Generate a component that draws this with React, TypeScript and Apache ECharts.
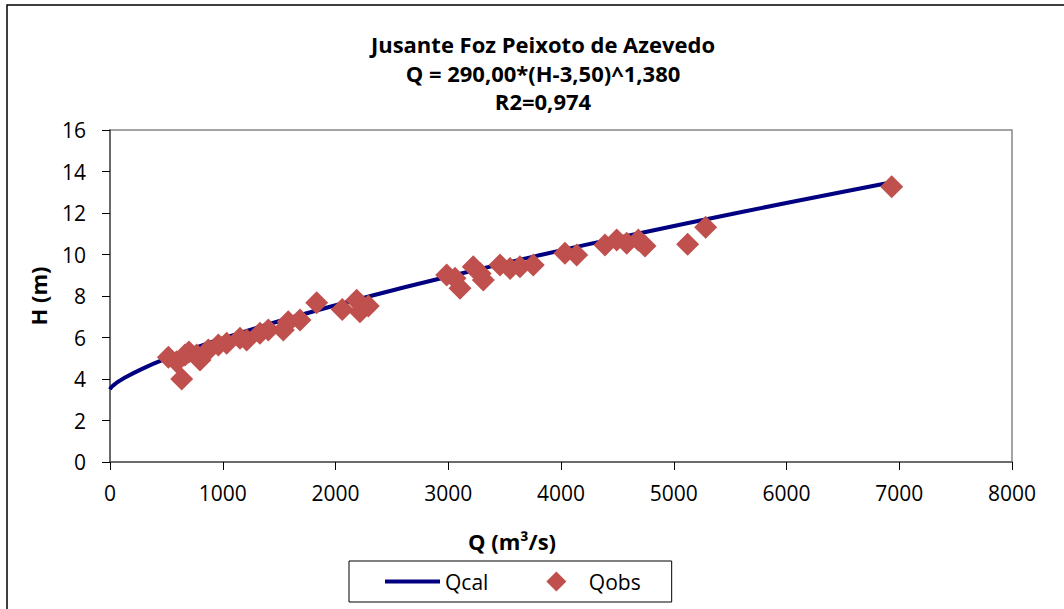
import React, { useEffect, useRef } from "react";
import * as echarts from "echarts";

const titleLines = ["Jusante Foz Peixoto de Azevedo", "Q = 290,00*(H-3,50)^1,380", "R2=0,974"];
const xTitle = "Q (m³/s)";
const yTitle = "H (m)";

// Qcal curve points (Q, H)
const calQ = [0, 12.1, 31.5, 55.0, 111.4, 290, 507.4, 754.8, 1027, 1634, 2311, 3049, 3839, 4677, 5559, 6482, 6890];
const calH = [3.5, 3.6, 3.7, 3.8, 4.0, 4.5, 5.0, 5.5, 6.0, 7.0, 8.0, 9.0, 10.0, 11.0, 12.0, 13.0, 13.43];

// Qobs observations
const obsQ = [518, 636, 591, 665, 700, 769, 798, 872, 961, 1035, 1153, 1212, 1330, 1404, 1537, 1581, 1685, 1833, 2060, 2188, 2217, 2291, 2986, 3060, 3104, 3222, 3282, 3311, 3459, 3548, 3636, 3754, 4035, 4139, 4390, 4494, 4583, 4686, 4745, 5123, 5283, 6933];
const obsH = [5.05, 4.0, 4.83, 5.16, 5.3, 5.16, 4.92, 5.4, 5.64, 5.72, 5.96, 5.88, 6.2, 6.36, 6.36, 6.76, 6.84, 7.68, 7.35, 7.8, 7.24, 7.52, 9.01, 8.85, 8.37, 9.41, 9.09, 8.77, 9.49, 9.33, 9.41, 9.49, 10.06, 9.98, 10.46, 10.7, 10.54, 10.7, 10.41, 10.5, 11.31, 13.27];

const FONT = "Open Sans";

export default function App() {
  const ref = useRef<HTMLDivElement>(null);
  useEffect(() => {
    document.body.style.margin = "0";
    const chart = echarts.init(ref.current!, null, { renderer: "svg" });
    const calData = calQ.map((q, i) => [q, calH[i]]);
    const obsData = obsQ.map((q, i) => [q, obsH[i]]);
    chart.setOption({
      animation: false,
      backgroundColor: "#fff",
      textStyle: { fontFamily: FONT },
      grid: {
        left: 110,
        top: 130,
        width: 902,
        height: 332,
        show: true,
        borderColor: "#868686",
        borderWidth: 1.5,
      },
      xAxis: {
        type: "value",
        min: 0,
        max: 8000,
        interval: 1000,
        splitLine: { show: false },
        axisLine: { show: true, lineStyle: { color: "#595959", width: 1.5 } },
        axisTick: { show: true, length: 8, lineStyle: { color: "#000" } },
        axisLabel: {
          color: "#000",
          fontSize: 21,
          fontFamily: FONT,
          margin: 20,
          formatter: (v: number) => String(v),
        },
      },
      yAxis: {
        type: "value",
        min: 0,
        max: 16,
        interval: 2,
        splitLine: { show: false },
        axisLine: { show: true, lineStyle: { color: "#595959", width: 1.5 } },
        axisTick: { show: true, length: 8, lineStyle: { color: "#000" } },
        axisLabel: { color: "#000", fontSize: 21, fontFamily: FONT, margin: 24 },
      },
      legend: {
        left: 349,
        top: 561,
        orient: "horizontal",
        borderColor: "#000",
        borderWidth: 1,
        padding: [10, 31, 10, 36],
        itemGap: 58,
        itemWidth: 55,
        itemHeight: 20,
        symbolKeepAspect: true,
        textStyle: { fontSize: 21, color: "#000", fontFamily: FONT },
        data: [
          { name: "Qcal", icon: "path://M0,8 L55,8 L55,12 L0,12 Z" },
          { name: "Qobs", icon: "path://M10,0 L20,10 L10,20 L0,10 Z" },
        ],
      },
      series: [
        {
          name: "Qcal",
          type: "line",
          data: calData,
          smooth: true,
          showSymbol: false,
          symbol: "none",
          lineStyle: { color: "#000080", width: 4 },
          itemStyle: { color: "#000080" },
          z: 2,
        },
        {
          name: "Qobs",
          type: "scatter",
          data: obsData,
          symbol: "diamond",
          symbolSize: 23,
          itemStyle: { color: "#C0504D", opacity: 1 },
          z: 3,
        },
      ],
      graphic: [
        {
          type: "rect",
          shape: { x: 7, y: 5, width: 1080, height: 640 },
          style: { fill: "none", stroke: "#000", lineWidth: 1.5 },
          silent: true,
        },
        ...titleLines.map((t, i) => ({
          type: "text",
          x: 543,
          y: 44 + i * 28.5,
          style: {
            text: t,
            fontSize: 22,
            fontWeight: "bold",
            fontFamily: FONT,
            fill: "#000",
            align: "center",
            verticalAlign: "middle",
          },
        })),
        {
          type: "text",
          x: 512,
          y: 541,
          style: {
            text: xTitle,
            fontSize: 22,
            fontWeight: "bold",
            fontFamily: FONT,
            fill: "#000",
            align: "center",
            verticalAlign: "middle",
          },
        },
        {
          type: "text",
          x: 38,
          y: 296,
          rotation: Math.PI / 2,
          style: {
            text: yTitle,
            fontSize: 22,
            fontWeight: "bold",
            fontFamily: FONT,
            fill: "#000",
            align: "center",
            verticalAlign: "middle",
          },
        },
      ],
    });
    return () => chart.dispose();
  }, []);
  return <div ref={ref} style={{ width: 1064, height: 609 }} />;
}
